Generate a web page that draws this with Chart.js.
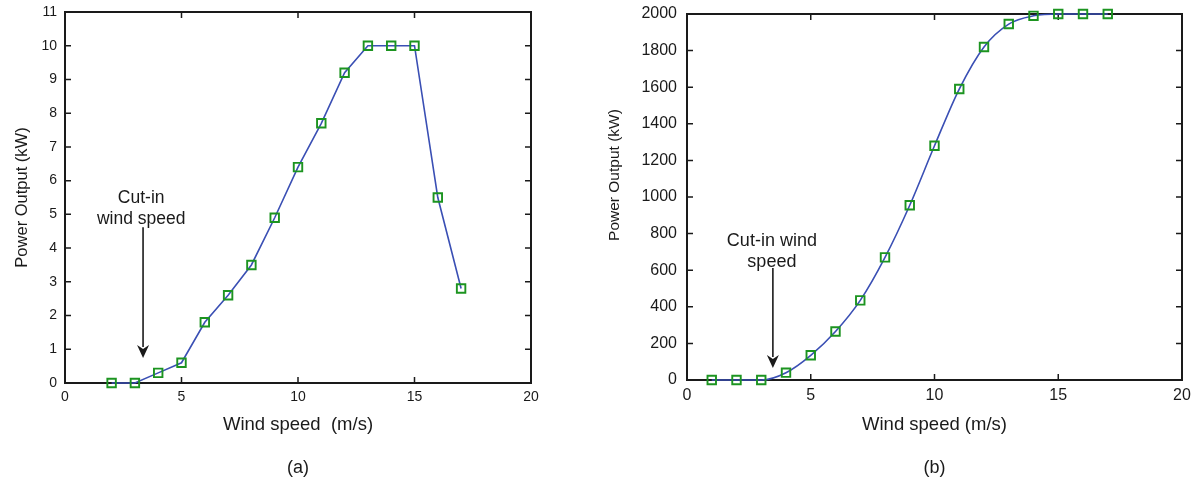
<!DOCTYPE html>
<html><head><meta charset="utf-8">
<script src="https://cdn.jsdelivr.net/npm/chart.js@4/dist/chart.umd.min.js"></script>
<style>
html,body{margin:0;padding:0;background:#fff;width:1198px;height:481px;overflow:hidden}
#a{position:absolute;left:0;top:0;width:560px;height:481px}
#b{position:absolute;left:590px;top:0;width:608px;height:481px}
</style></head><body>
<div id="a"><canvas id="ca"></canvas></div>
<div id="b"><canvas id="cb"></canvas></div>
<script>
// ---- data ----
const windA = [2,3,4,5,6,7,8,9,10,11,12,13,14,15,16,17];
const powerA = [0,0,0.3,0.6,1.8,2.6,3.5,4.9,6.4,7.7,9.2,10,10,10,5.5,2.8];
const windB = [1,2,3,4,5,6,7,8,9,10,11,12,13,14,15,16,17];
const powerB = [0,0,0,40,135,265,435,670,955,1280,1590,1820,1945,1990,2000,2000,2000];
const xTicks = [0,5,10,15,20];
const yTicksA = [0,1,2,3,4,5,6,7,8,9,10,11];
const yTicksB = [0,200,400,600,800,1000,1200,1400,1600,1800,2000];
const labelsA = ['Cut-in','wind speed'];
const labelsB = ['Cut-in wind','speed'];
const xTitleA = 'Wind speed  (m/s)';
const xTitleB = 'Wind speed (m/s)';
const yTitle = 'Power Output (kW)';
const captionA = '(a)';
const captionB = '(b)';
// annotation anchors (data units)
const cutInA = {x:3.35, yFrom:4.62, yTo:0.74, textX:3.27, textY:[5.47,4.87]};
const cutInB = {x:3.47, yFrom:612, yTo:66, textX:3.43, textY:[757,645]};
const yTitleAtA = 5.5;
const yTitleAtB = 1120;

const FONT = "'Liberation Sans', Arial, sans-serif";
const TXT = '#1a1a1a';

const framePlugin = {
  id:'frame',
  beforeDatasetsDraw(chart){
    const {ctx, chartArea:a, scales:{x,y}} = chart;
    ctx.save();
    ctx.strokeStyle = '#1a1a1a';
    ctx.lineWidth = 1.5;
    const L = 6;
    ctx.beginPath();
    x.ticks.forEach(t=>{
      const px = x.getPixelForValue(t.value);
      ctx.moveTo(px,a.bottom); ctx.lineTo(px,a.bottom-L);
      ctx.moveTo(px,a.top); ctx.lineTo(px,a.top+L);
    });
    y.ticks.forEach(t=>{
      const py = y.getPixelForValue(t.value);
      ctx.moveTo(a.left,py); ctx.lineTo(a.left+L,py);
      ctx.moveTo(a.right,py); ctx.lineTo(a.right-L,py);
    });
    ctx.stroke();
    ctx.lineWidth = 2;
    ctx.strokeRect(a.left,a.top,a.right-a.left,a.bottom-a.top);
    ctx.restore();
  }
};

const annotPlugin = {
  id:'annot',
  afterDatasetsDraw(chart, args, o){
    const {ctx, scales:{x,y}} = chart;
    ctx.save();
    ctx.fillStyle = TXT;
    ctx.font = o.fontSize + 'px ' + FONT;
    ctx.textAlign = 'center';
    ctx.textBaseline = 'middle';
    o.lines.forEach((s,i)=>{
      ctx.fillText(s, x.getPixelForValue(o.pos.textX), y.getPixelForValue(o.pos.textY[i]));
    });
    const px = x.getPixelForValue(o.pos.x);
    const y0 = y.getPixelForValue(o.pos.yFrom);
    const y1 = y.getPixelForValue(o.pos.yTo);
    const H = 13, W = 6;
    ctx.strokeStyle = TXT;
    ctx.lineWidth = 1.6;
    ctx.beginPath(); ctx.moveTo(px,y0); ctx.lineTo(px,y1-H+2); ctx.stroke();
    ctx.beginPath(); ctx.moveTo(px,y1); ctx.lineTo(px-W,y1-H); ctx.lineTo(px,y1-H+4); ctx.lineTo(px+W,y1-H); ctx.closePath(); ctx.fill();
    // y-axis title
    ctx.font = o.yTitleSize + 'px ' + FONT;
    ctx.translate(o.yTitleX, y.getPixelForValue(o.yTitleAt));
    ctx.rotate(-Math.PI/2);
    ctx.fillText(o.yTitle, 0, 0);
    ctx.restore();
  }
};

function makeChart(id, xs, ys, yMax, yTicks, cfg){
  return new Chart(document.getElementById(id), {
    type:'scatter',
    data:{datasets:[{
      data: xs.map((v,i)=>({x:v,y:ys[i]})),
      showLine:true,
      borderColor:'#3a4fb4',
      borderWidth:1.6,
      tension: cfg.tension,
      cubicInterpolationMode: cfg.tension ? 'monotone' : 'default',
      pointStyle:'rect',
      pointRadius:6,
      pointBorderColor:'#1c9420',
      pointBackgroundColor:'rgba(255,255,255,0)',
      pointBorderWidth:1.9,
      clip:false
    }]},
    options:{
      responsive:true, maintainAspectRatio:false, animation:false,
      events:[],
      layout:{padding:{top:cfg.padTop, right:cfg.padRight, left:0, bottom:0}},
      plugins:{
        legend:{display:false}, tooltip:{enabled:false},
        title:{display:true, position:'bottom', fullSize:false, text:cfg.caption, color:TXT,
          font:{family:FONT, size:18, weight:'normal'}, padding:{top:16.4, bottom:2.0}},
        annot:{lines:cfg.lines, pos:cfg.pos, fontSize:cfg.annotSize,
          yTitle:yTitle, yTitleSize:cfg.yTitleSize, yTitleX:cfg.yTitleX, yTitleAt:cfg.yTitleAt}
      },
      scales:{
        x:{type:'linear', min:0, max:20,
          afterBuildTicks:s=>{s.ticks = xTicks.map(v=>({value:v}));},
          afterFit:s=>{s.height = cfg.xH; s.paddingLeft = 0; s.paddingRight = 0;},
          grid:{display:false, drawTicks:false}, border:{display:false},
          ticks:{color:TXT, padding:cfg.xPad, font:{family:FONT, size:cfg.tickSize}, callback:v=>String(v)},
          title:{display:true, text:cfg.xTitle, color:TXT, font:{family:FONT, size:18.5}, padding:{top:0,bottom:4.9}}
        },
        y:{type:'linear', min:0, max:yMax,
          afterBuildTicks:s=>{s.ticks = yTicks.map(v=>({value:v}));},
          afterFit:s=>{s.width = cfg.yW; s.paddingTop = 0; s.paddingBottom = 0;},
          grid:{display:false, drawTicks:false}, border:{display:false},
          ticks:{color:TXT, padding:cfg.yPad, font:{family:FONT, size:cfg.tickSize}, callback:v=>String(v)},
          title:{display:false}
        }
      }
    },
    plugins:[framePlugin, annotPlugin]
  });
}

makeChart('ca', windA, powerA, 11, yTicksA, {
  tension:0, padTop:12, padRight:29, xH:58, yW:65, xPad:6, yPad:8, tickSize:14,
  xTitle:xTitleA, caption:captionA, yTitleSize:16.5, yTitleX:22, yTitleAt:yTitleAtA,
  lines:labelsA, pos:cutInA, annotSize:17.5
});
makeChart('cb', windB, powerB, 2000, yTicksB, {
  tension:0.4, padTop:14, padRight:16, xH:61, yW:97, xPad:6, yPad:10, tickSize:16,
  xTitle:xTitleB, caption:captionB, yTitleSize:15.5, yTitleX:25, yTitleAt:yTitleAtB,
  lines:labelsB, pos:cutInB, annotSize:18
});
</script>
</body></html>
